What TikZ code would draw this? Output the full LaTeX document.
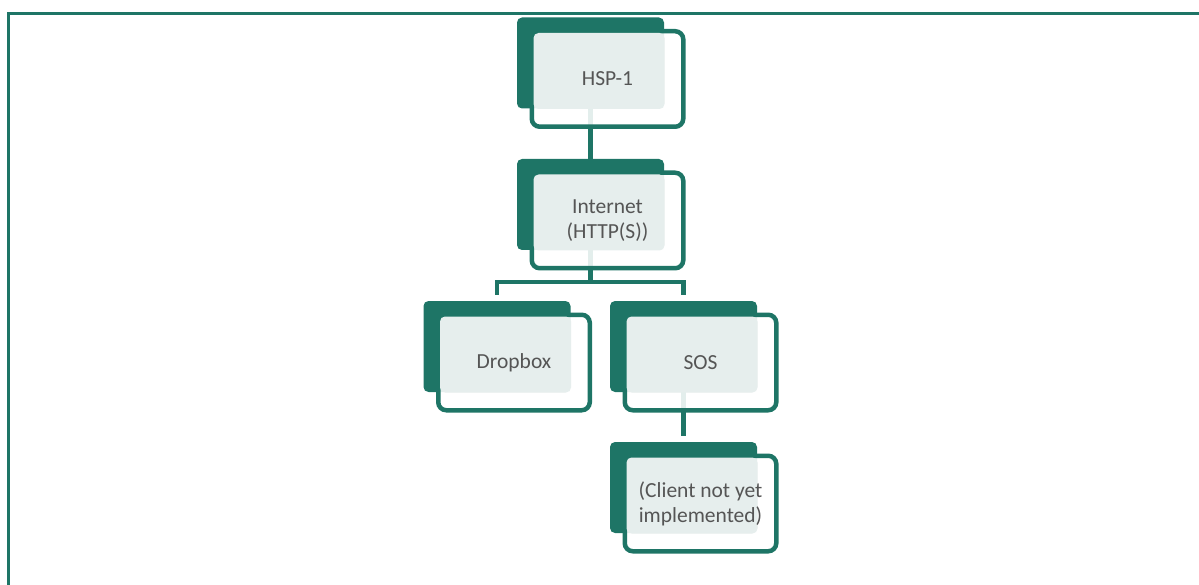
\documentclass[tikz,border=0pt]{standalone}
\usepackage{fontspec}
\setmainfont{Carlito}
\usetikzlibrary{positioning}
\definecolor{hspteal}{HTML}{1E7566}
\definecolor{hsplight}{HTML}{E6EEED}
\definecolor{hsptext}{HTML}{555555}
\pgfdeclarelayer{background}
\pgfsetlayers{background,main}
\tikzset{
  orgback/.style={rectangle, fill=hspteal, rounded corners=5pt, minimum width=147pt, minimum height=91pt, inner sep=0pt, outer sep=0pt},
  orgframe/.style={rectangle, draw=hspteal, line width=4.5pt, fill=white, fill opacity=0.88, rounded corners=8pt, minimum width=151.5pt, minimum height=95.5pt, inner sep=0pt},
  orgfill/.style={rectangle, fill=hsplight, rounded corners=5pt, minimum width=131pt, minimum height=76pt, inner sep=0pt},
  orglabel/.style={align=center, text=hsptext, font=\fontsize{21.5}{25}\selectfont, inner sep=0pt},
  link/.style={hspteal, line width=4.2pt}
}
\begin{document}
\begin{tikzpicture}[x=1pt,y=-1pt]
\useasboundingbox (0,0) rectangle (1199,585);
\draw[hspteal, line width=3pt] (8.5,585) |- (1199,13.7);

\foreach \n/\x/\y/\t in {hsp/590.5/63/HSP-1, net/590.5/204.5/{Internet\\(HTTP(S))}, drop/497/346.5/Dropbox, sos/683.5/346.5/SOS, cli/683.5/487.5/{(Client not yet\\implemented)}} {
  \node[orgback] (\n) at (\x,\y) {};
  \node[orgframe] (\n-o) at ([shift={(17,16)}]\n.center) {};
  \node[orgfill] (\n-f) at ([shift={(8.5,8)}]\n.center) {};
  \node[orglabel] (\n-t) at (\n-o) {\t};
}

\begin{pgfonlayer}{background}
\draw[link] (hsp) -- (net);
\draw[link, shorten >=6pt] (net.south) -- ++(0,32) -| (drop.north);
\draw[link, shorten >=6pt] (net.south) -- ++(0,32) -| (sos.north);
\draw[link, shorten >=6pt] (sos) -- (cli);
\end{pgfonlayer}
\end{tikzpicture}
\end{document}
